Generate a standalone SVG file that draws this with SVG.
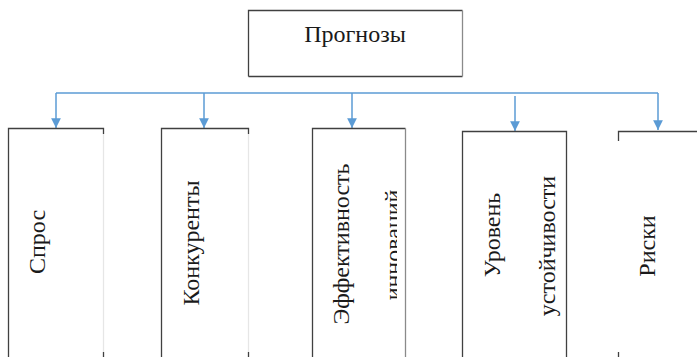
<svg xmlns="http://www.w3.org/2000/svg" width="697" height="357" viewBox="0 0 697 357" font-family="Liberation Serif">
<style>
.b{stroke:#404040;stroke-width:1.3;fill:none}
.lt{stroke:#e6e6e6;stroke-width:1.3;fill:none}
.md{stroke:#8a8a8a;stroke-width:1.3;fill:none}
.c{stroke:#5B9BD5;stroke-width:1.5;fill:none}
.t{font-size:24px;fill:#1a1a1a}
</style>
<defs>
<marker id="ah" viewBox="0 0 10 10" refX="10" refY="5" markerWidth="6.5" markerHeight="6.5" orient="auto" markerUnits="strokeWidth">
<path d="M0,0 L10,5 L0,10 z" fill="#5B9BD5"/>
</marker>
<clipPath id="c3"><rect x="313" y="129" width="84" height="228"/></clipPath>
</defs>
<rect width="697" height="357" fill="#fff"/>
<g id="root">
<path class="b" d="M248.5,76.5 V10.5 H462.5"/>
<path class="b" d="M248.5,76.5 H462.5"/>
<path class="md" d="M462.5,10.5 V76.5"/>
<text class="t" x="355" y="42" text-anchor="middle">Прогнозы</text>
</g>
<g id="connectors">
<path class="c" d="M56,93 H658"/>
<path class="c" d="M56,93 V128" marker-end="url(#ah)"/>
<path class="c" d="M204,93 V128" marker-end="url(#ah)"/>
<path class="c" d="M352,93 V128" marker-end="url(#ah)"/>
<path class="c" d="M515,96 V131" marker-end="url(#ah)"/>
<path class="c" d="M658,93 V130" marker-end="url(#ah)"/>
</g>
<g id="n1">
<path class="b" d="M8.5,357 V128.5 H103.5 V134"/>
<path class="lt" d="M103.5,134 V352"/>
<path class="b" d="M103.5,352 V357"/>
<text class="t" transform="translate(45,242) rotate(-90)" text-anchor="middle">Спрос</text>
</g>
<g id="n2">
<path class="b" d="M161.5,357 V128.5 H248.5 V134"/>
<path class="lt" d="M248.5,134 V352"/>
<path class="b" d="M248.5,352 V357"/>
<text class="t" transform="translate(199,243) rotate(-90)" text-anchor="middle">Конкуренты</text>
</g>
<g id="n3">
<path class="b" d="M312.5,357 V128.5 H405.5"/>
<path class="md" d="M405.5,128.5 V357"/>
<g clip-path="url(#c3)">
<text class="t" transform="translate(349,244) rotate(-90)" text-anchor="middle">Эффективность</text>
<text class="t" transform="translate(401,245) rotate(-90)" text-anchor="middle">инноваций</text>
</g>
</g>
<g id="n4">
<path class="b" d="M462.5,357 V131.5 H566.5 V357"/>
<text class="t" transform="translate(500,235) rotate(-90)" text-anchor="middle">Уровень</text>
<text class="t" transform="translate(555,246) rotate(-90)" text-anchor="middle">устойчивости</text>
</g>
<g id="n5">
<path class="b" d="M618.5,141 V131.5 H697"/>
<path class="b" d="M618.5,352 V357"/>
<text class="t" transform="translate(655,246) rotate(-90)" text-anchor="middle">Риски</text>
</g>
</svg>
